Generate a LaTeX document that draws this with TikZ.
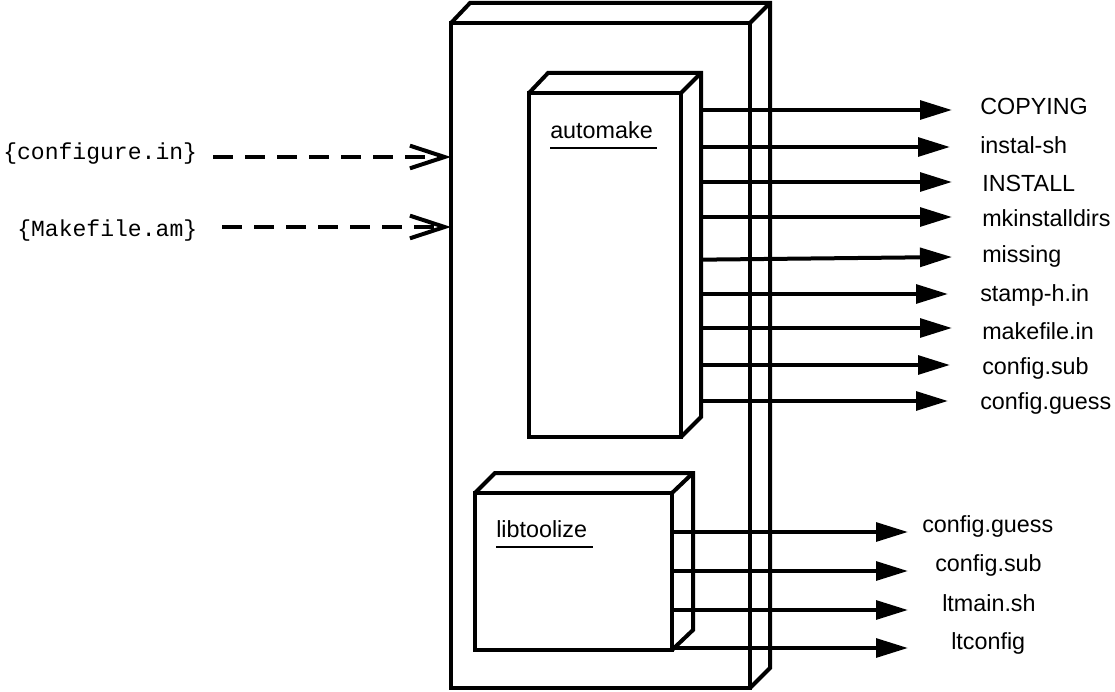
\documentclass[tikz,border=0pt]{standalone}
\usepackage{fontspec}
\setmainfont{Liberation Sans}
\setmonofont{Liberation Mono}
\usetikzlibrary{arrows.meta}
\begin{document}
\begin{tikzpicture}[x=0.75pt,y=-0.75pt,
  edge/.style={line width=3pt, line join=miter},
  face/.style={draw, line width=3pt, inner sep=0pt, outer sep=0pt},
  file/.style={anchor=base west, inner sep=0pt, font=\fontsize{17.5}{20}\selectfont},
  ttl/.style={anchor=base west, inner sep=0pt, font=\fontsize{17.5}{20}\selectfont},
  src/.style={anchor=base west, inner sep=0pt, font=\ttfamily\fontsize{17.3}{20}\selectfont},
  arr/.style={line width=3pt, -{Triangle[length=24pt,width=14pt]}},
  dasharr/.style={line width=3pt, dash pattern=on 15pt off 9pt, -{Straight Barb[length=26pt,width=17pt]}},
  uline/.style={line width=2pt}]
\fill[white] (0,0) rectangle (1115,692);
\useasboundingbox (0,0) rectangle (1115,692);

% outer box (front face + depth)
\node[face, minimum width=224.25pt, minimum height=498.75pt] (big) at (600.5,355.5) {};
\draw[edge] (big.north west) -- ++(19,-20) -| ([shift={(20,-20)}]big.south east) -- (big.south east);
\draw[edge] (big.north east) -- ++(20,-20);

% automake box
\node[face, minimum width=114pt, minimum height=258pt] (am) at (605,265) {};
\draw[edge] (am.north west) -- ++(19,-20) -| ([shift={(20,-20)}]am.south east) -- (am.south east);
\draw[edge] (am.north east) -- ++(20,-20);
\coordinate (amback) at ([xshift=15pt]am.north east);
\node[ttl] (amlab) at (550,138) {automake};
\draw[uline] ([yshift=-7.5pt]amlab.base west) -- ++(107,0);

% libtoolize box
\node[face, minimum width=147.75pt, minimum height=117.75pt] (lt) at (573.5,571.5) {};
\draw[edge] (lt.north west) -- ++(20,-20) -| ([shift={(21,-20)}]lt.south east) -- (lt.south east);
\draw[edge] (lt.north east) -- ++(21,-20);
\node[ttl] (ltlab) at (496,537) {libtoolize};
\draw[uline] ([yshift=-7.5pt]ltlab.base west) -- ++(97,0);

% inputs
\node[src] (cfg) at (3,160) {\{configure.in\}};
\node[src] (mkam) at (17,236) {\{Makefile.am\}};
\coordinate (s1) at (213,157);
\coordinate (s2) at (222,227);
\draw[dasharr] (s1) -- (big.west |- s1);
\draw[dasharr] (s2) -- (big.west |- s2);

% automake outputs
\node[file] (f1) at (980,115) {COPYING};
\node[file] (f2) at (980,153) {instal-sh};
\node[file] (f3) at (982,191) {INSTALL};
\node[file] (f4) at (982,226) {mkinstalldirs};
\node[file] (f5) at (982,262) {missing};
\node[file] (f6) at (980,301) {stamp-h.in};
\node[file] (f7) at (982,339) {makefile.in};
\node[file] (f8) at (982,374) {config.sub};
\node[file] (f9) at (980,409) {config.guess};
\coordinate (t1) at (952,110);
\coordinate (t2) at (950,147);
\coordinate (t3) at (952,182);
\coordinate (t4) at (952,217);
\coordinate (t5) at (952,257);
\coordinate (t6) at (948,294);
\coordinate (t7) at (952,328);
\coordinate (t8) at (950,365);
\coordinate (t9) at (948,401);
\foreach \t in {t1,t2,t3,t4,t6,t7,t8,t9}
  \draw[arr] (amback |- \t) -- (\t);
\draw[arr] ([yshift=-2pt]amback |- t5) -- (t5);

% libtoolize outputs
\node[file] (g1) at (922,532) {config.guess};
\node[file] (g2) at (935,571) {config.sub};
\node[file] (g3) at (942,611) {ltmain.sh};
\node[file] (g4) at (951,649) {ltconfig};
\coordinate (u1) at (908,532);
\coordinate (u2) at (908,571);
\coordinate (u3) at (908,610);
\coordinate (u4) at (908,648);
\foreach \u in {u1,u2,u3,u4}
  \draw[arr] (lt.east |- \u) -- (\u);
\end{tikzpicture}
\end{document}
